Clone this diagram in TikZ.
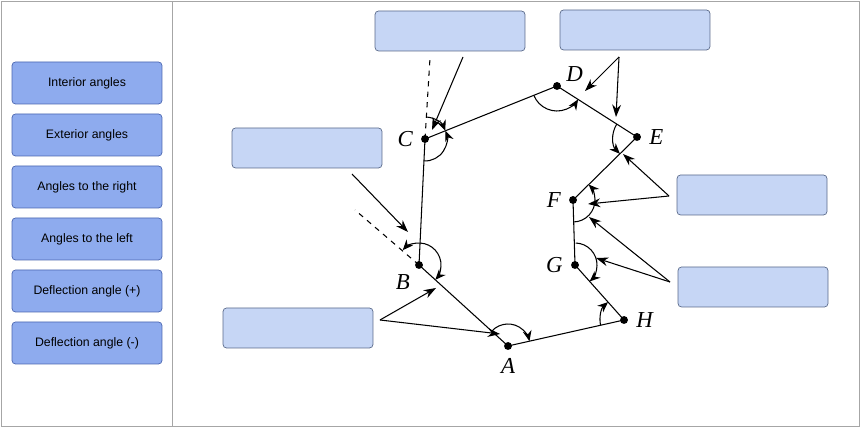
\documentclass[tikz,border=0pt]{standalone}
\usepackage{fontspec}
\setmainfont{Liberation Sans}
\newfontfamily\vtxfont{Liberation Serif}
\usetikzlibrary{arrows.meta,positioning}
\definecolor{btnfill}{HTML}{8EABEE}
\definecolor{btnline}{HTML}{4A66B0}
\definecolor{lblfill}{HTML}{C6D6F5}
\definecolor{lblline}{HTML}{5A6A8A}
\tikzset{
  btn/.style={draw=btnline, fill=btnfill, rounded corners=2pt, minimum width=3cm, minimum height=0.84cm, font=\fontsize{7}{8}\selectfont, inner sep=0pt},
  lbl/.style={draw=lblline, fill=lblfill, rounded corners=2pt, minimum width=3cm, minimum height=0.8cm},
  pt/.style={circle, fill=black, inner sep=0pt, minimum size=4.5pt},
  vtx/.style={font=\fontsize{13}{15}\selectfont\vtxfont\itshape},
  ang/.style={semithick, -{Stealth[length=6pt,width=5pt]}},
  ptr/.style={semithick, -{Stealth[length=7pt,width=5pt]}}
}
\begin{document}
\begin{tikzpicture}[x=0.02cm, y=0.02cm]
    \useasboundingbox (0,0) rectangle (861,428);
    \draw[gray!70] (1.5,1.5) rectangle (859.5,426.5);
    \draw[gray!70] (172,1.5) -- (172,426.5);

    % buttons on the left
    \foreach \t [count=\i] in {Interior angles, Exterior angles, Angles to the right,
        Angles to the left, Deflection angle (+), Deflection angle (-)}
      \node[btn] (b\i) at (87,{345-52*(\i-1)}) {\t};

    % empty label boxes
    \node[lbl] (lC) at (450,397) {};
    \node[lbl] (lD) at (635,398) {};
    \node[lbl] (lB) at (307,280) {};
    \node[lbl] (lA) at (298,100) {};
    \node[lbl] (lF) at (752,233) {};
    \node[lbl] (lG) at (753,141) {};

    % traverse
    \node[pt] (A) at (508,82) {};
    \node[pt] (B) at (419,163) {};
    \node[pt] (C) at (425,289) {};
    \node[pt] (D) at (557,342) {};
    \node[pt] (E) at (637,291) {};
    \node[pt] (F) at (573,228) {};
    \node[pt] (G) at (575,163) {};
    \node[pt] (H) at (624,108) {};
    \draw[semithick] (A.center) -- (B.center) -- (C.center) -- (D.center) -- (E.center)
        -- (F.center) -- (G.center) -- (H.center) -- (A.center);
    \draw[dashed, semithick] (B.center) -- (355,218);
    \draw[dashed, semithick] (C.center) -- (430,370);

    \node[vtx, below=1pt of A] {A};
    \node[vtx, below left=0pt and 0pt of B] {B};
    \node[vtx, left=1pt of C] {C};
    \node[vtx, above right=-3pt and 0pt of D] {D};
    \node[vtx, right=1pt of E] {E};
    \node[vtx, left=1pt of F] {F};
    \node[vtx, left=1pt of G] {G};
    \node[vtx, right=1pt of H] {H};

    % angle arcs
    \draw[ang] ([shift={(137.7:22)}]A.center) arc (137.7:12.6:22);
    \draw[ang] ([shift={(87:22)}]B.center) arc (87:-42.3:22);
    \draw[ang] ([shift={(87:22)}]B.center) arc (87:137.7:22);
    \draw[ang] ([shift={(267.3:22)}]C.center) arc (267.3:381.9:22);
    \draw[ang] ([shift={(87.3:22)}]C.center) arc (87.3:21.9:22);
    \draw[ang] ([shift={(201.9:25)}]D.center) arc (201.9:327.5:25);
    \draw[ang] ([shift={(147.5:24)}]E.center) arc (147.5:224.6:24);
    \draw[ang] ([shift={(272:22)}]F.center) arc (272:404.6:22);
    \draw[ang] ([shift={(88:22)}]G.center) arc (88:-48.3:22);
    \draw[ang] ([shift={(192.6:24)}]H.center) arc (192.6:131.7:24);

    % pointers from the label boxes
    \coordinate (pC) at (463,371);
    \coordinate (pD) at (619,371);
    \coordinate (pB) at (352,254);
    \coordinate (pA) at (380,108);
    \coordinate (pF) at (669,232);
    \coordinate (pG) at (670,146);
    \draw[ptr] (pC) -- (432,298);
    \draw[ptr] (pD) -- (585,337);
    \draw[ptr] (pD) -- (616,311);
    \draw[ptr] (pB) -- (408,196);
    \draw[ptr] (pA) -- (436,140);
    \draw[ptr] (pA) -- (500,94);
    \draw[ptr] (pF) -- (623,274);
    \draw[ptr] (pF) -- (588,224);
    \draw[ptr] (pG) -- (589,211);
    \draw[ptr] (pG) -- (596,170);
\end{tikzpicture}
\end{document}
